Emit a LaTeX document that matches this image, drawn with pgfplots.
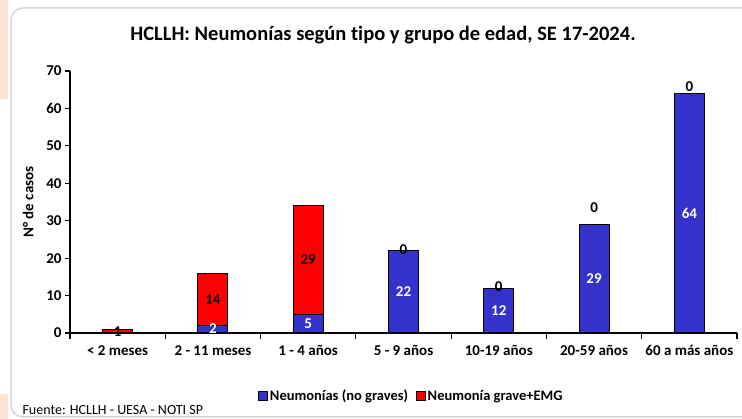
\documentclass[border=0pt]{standalone}
\usepackage{fontspec}
\setmainfont{Carlito}[Ligatures=NoCommon]
\usepackage{pgfplots}
\usepackage{pgfplotstable}
\pgfplotsset{compat=1.18}

\definecolor{azul}{RGB}{51,51,204}
\definecolor{rojo}{RGB}{255,0,0}
\definecolor{marco}{RGB}{215,215,215}
\definecolor{durazno}{RGB}{252,226,208}

% altura total de la barra y parte no grave
\pgfplotstableread{
x total nograve
0 1  0
1 16 2
2 34 5
3 22 22
4 12 12
5 29 29
6 64 64
}\datos

% etiquetas de la parte azul (no graves)
\pgfplotstableread{
x y l
1 1.1 2
2 2.5 5
3 11 22
4 6 12
5 14.5 29
6 32 64
}\etqazul

% etiquetas de la parte roja (grave+EMG)
\pgfplotstableread{
x y l
0 0.3 1
1 9 14
2 19.5 29
3 22.3 0
4 12.3 0
5 33.5 0
6 65.9 0
}\etqrojo

\pgfplotsset{
  leg/.style={legend image code/.code={\draw[##1, draw=black, line width=0.6pt] (0pt,-4.5pt) rectangle (9pt,4.5pt);}},
}

\begin{document}
\begin{tikzpicture}[x=1pt,y=1pt]
\useasboundingbox (0,0) rectangle (742,419);
\fill[white] (0,0) rectangle (742,419);
\fill[durazno] (0,320) rectangle (8,419);
\fill[durazno] (0,0) rectangle (8,25);
\draw[marco, line width=1.5pt, rounded corners=12pt] (11,2) rectangle (790,411);

\node at (383,384) {\bfseries\fontsize{20.5}{24}\selectfont HCLLH: Neumonías según tipo y grupo de edad, SE 17-2024.};
\node[anchor=west] at (19,9) {\fontsize{14}{16}\selectfont Fuente: HCLLH - UESA - NOTI SP};

\begin{axis}[
    at={(70pt,86pt)}, anchor=south west,
    scale only axis,
    width=667pt, height=262pt,
    xmin=-0.5, xmax=6.5,
    ymin=0, ymax=70,
    axis x line=bottom, axis y line=left,
    axis line style={-, black, line width=1.3pt},
    xtick={0,...,6},
    xticklabels={{< 2 meses},{2 - 11 meses},{1 - 4 años},{5 - 9 años},{10-19 años},{20-59 años},{60 a más años}},
    x tick label style={yshift=-4pt},
    minor xtick={-0.5,0.5,...,6.5},
    major x tick style={draw=none},
    minor x tick style={black, line width=1.2pt},
    minor tick length=6pt,
    ytick={0,10,...,70},
    major y tick style={black, line width=1.2pt},
    major tick length=5pt,
    tick align=outside,
    /pgf/number format/assume math mode=true,
    ticklabel style={font=\bfseries\fontsize{15}{17}\selectfont},
    ylabel={N° de casos},
    ylabel shift=6pt,
    ylabel style={font=\bfseries\fontsize{15}{17}\selectfont},
    reverse legend,
    legend style={at={(axis description cs:0.512,-0.24)}, anchor=center, draw=none,
      legend columns=-1, font=\bfseries\fontsize{14.5}{17}\selectfont,
      /tikz/every even column/.append style={column sep=6pt}},
    clip=false,
]
\addplot[ybar, bar width=30pt, bar shift=0pt, fill=rojo, draw=black, line width=1pt, leg]
  table[x=x, y=total] {\datos};
\addlegendentry{Neumonía grave+EMG}
\addplot[ybar, bar width=30pt, bar shift=0pt, fill=azul, draw=black, line width=1pt, leg]
  table[x=x, y=nograve] {\datos};
\addlegendentry{Neumonías (no graves)}

\addplot[only marks, mark=none, forget plot, nodes near coords, point meta=explicit symbolic,
  nodes near coords align=center,
  every node near coord/.append style={text=white, font=\bfseries\fontsize{15}{17}\selectfont}]
  table[x=x, y=y, meta=l] {\etqazul};
\addplot[only marks, mark=none, forget plot, nodes near coords, point meta=explicit symbolic,
  nodes near coords align=center,
  every node near coord/.append style={text=black, font=\bfseries\fontsize{15}{17}\selectfont}]
  table[x=x, y=y, meta=l] {\etqrojo};
\end{axis}
\end{tikzpicture}
\end{document}
